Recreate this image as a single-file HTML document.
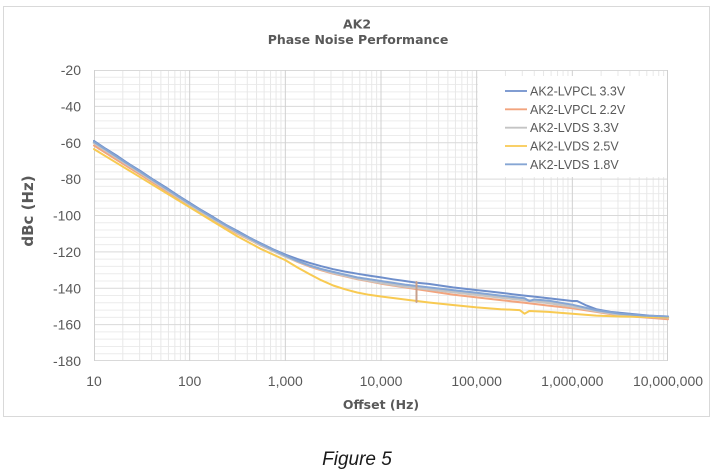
<!DOCTYPE html>
<html>
<head>
<meta charset="utf-8">
<style>
  html,body{margin:0;padding:0;background:#fff;}
  body{width:714px;height:475px;overflow:hidden;}
  svg{display:block;}
  .tick{font-family:"Liberation Sans",sans-serif;font-size:14px;fill:#595959;}
  .ttl{font-family:"DejaVu Sans","Liberation Sans",sans-serif;font-weight:bold;fill:#595959;}
  .leg{font-family:"Liberation Sans",sans-serif;font-size:12.5px;fill:#595959;}
  .fig{font-family:"Liberation Sans",sans-serif;font-size:19px;font-style:italic;fill:#1a1a1a;}
</style>
</head>
<body>
<svg width="714" height="475" viewBox="0 0 714 475" xmlns="http://www.w3.org/2000/svg">
  <rect x="0" y="0" width="714" height="475" fill="#fff"/>
  <rect x="3.5" y="6.5" width="706" height="410" fill="#fff" stroke="#d9d9d9" stroke-width="1"/>

  <!-- titles -->
  <text class="ttl" x="357" y="28.5" font-size="12.5" text-anchor="middle">AK2</text>
  <text class="ttl" x="358" y="44" font-size="12.5" text-anchor="middle">Phase Noise Performance</text>

  <!-- minor horizontal grid -->
  <path stroke="#ececec" stroke-width="1" fill="none" d="
    M94 77.28H668 M94 84.55H668 M94 91.83H668 M94 99.1H668
    M94 113.65H668 M94 120.93H668 M94 128.2H668 M94 135.48H668
    M94 150.03H668 M94 157.3H668 M94 164.58H668 M94 171.85H668
    M94 186.4H668 M94 193.68H668 M94 200.95H668 M94 208.23H668
    M94 222.78H668 M94 230.05H668 M94 237.33H668 M94 244.6H668
    M94 259.15H668 M94 266.43H668 M94 273.7H668 M94 280.98H668
    M94 295.53H668 M94 302.8H668 M94 310.08H668 M94 317.35H668
    M94 331.9H668 M94 339.18H668 M94 346.45H668 M94 353.73H668"/>

  <!-- minor vertical grid -->
  <path stroke="#e8e8e8" stroke-width="1" fill="none" d="
    M122.8 70V361 M139.64 70V361 M151.6 70V361 M160.87 70V361 M168.44 70V361 M174.85 70V361 M180.4 70V361 M185.29 70V361
    M218.47 70V361 M235.31 70V361 M247.27 70V361 M256.54 70V361 M264.11 70V361 M270.52 70V361 M276.07 70V361 M280.96 70V361
    M314.13 70V361 M330.97 70V361 M342.93 70V361 M352.2 70V361 M359.77 70V361 M366.18 70V361 M371.73 70V361 M376.62 70V361
    M409.8 70V361 M426.64 70V361 M438.6 70V361 M447.87 70V361 M455.44 70V361 M461.85 70V361 M467.4 70V361 M472.29 70V361
    M505.47 70V361 M522.31 70V361 M534.27 70V361 M543.54 70V361 M551.11 70V361 M557.52 70V361 M563.07 70V361 M567.96 70V361
    M601.13 70V361 M617.97 70V361 M629.93 70V361 M639.2 70V361 M646.77 70V361 M653.18 70V361 M658.73 70V361 M663.62 70V361"/>

  <!-- major horizontal grid -->
  <path stroke="#d9d9d9" stroke-width="1" fill="none" d="
    M94 70.5H668 M94 106.4H668 M94 142.75H668 M94 179.1H668 M94 215.5H668
    M94 251.9H668 M94 288.25H668 M94 324.6H668 M94 360.5H668"/>

  <!-- major vertical grid -->
  <path stroke="#d0d0d0" stroke-width="1" fill="none" d="
    M94.5 70V361 M189.67 70V361 M285.33 70V361 M381 70V361 M476.67 70V361 M572.33 70V361 M667.5 70V361"/>

  <!-- y tick labels -->
  <g class="tick" text-anchor="end">
    <text x="81" y="75">-20</text>
    <text x="81" y="111.4">-40</text>
    <text x="81" y="147.75">-60</text>
    <text x="81" y="184.1">-80</text>
    <text x="81" y="220.5">-100</text>
    <text x="81" y="256.9">-120</text>
    <text x="81" y="293.25">-140</text>
    <text x="81" y="329.6">-160</text>
    <text x="81" y="366">-180</text>
  </g>

  <!-- x tick labels -->
  <g class="tick" text-anchor="middle">
    <text x="94" y="386">10</text>
    <text x="189.67" y="386">100</text>
    <text x="285.33" y="386">1,000</text>
    <text x="381" y="386">10,000</text>
    <text x="476.67" y="386">100,000</text>
    <text x="572.33" y="386">1,000,000</text>
    <text x="668" y="386">10,000,000</text>
  </g>

  <!-- axis titles -->
  <text class="ttl" x="381" y="409" font-size="12.5" text-anchor="middle">Offset (Hz)</text>
  <text class="ttl" font-size="15" text-anchor="middle" transform="translate(33,211) rotate(-90)">dBc (Hz)</text>

  <!-- series -->
  <g fill="none" stroke-linejoin="round" stroke-linecap="round">
    <!-- AK2-LVPCL 3.3V -->
    <polyline stroke="#6f8fcb" stroke-width="2" points="94,140.9 105.9,148.9 117.9,156.4 129.8,164.5 141.8,171.9 153.7,179.9 165.75,187.3 177.7,195.3 189.7,202.8 201.6,210.3 213.6,217.3 225.5,224.6 237.5,231.0 249.4,237.6 261.4,243.7 273.3,249.4 285.3,254.6 297.3,259.0 309.3,262.8 321.2,266.2 333.2,269.2 345.1,271.6 357.1,273.7 369,275.6 381,277.4 392.9,279.3 404.9,281.0 416.8,282.7 428.8,283.9 440.8,285.6 452.8,287.4 464.7,288.8 476.7,290.1 488.6,291.4 500.6,292.8 512.5,294.2 524.5,295.6 536.4,296.9 548.4,298.3 560.3,299.6 572.3,301.0 577.1,301.0 586.7,305.6 596.3,309.2 610.6,311.9 629.7,313.7 648.9,315.6 668,316.5"/>
    <!-- AK2-LVPCL 2.2V -->
    <polyline stroke="#f2a47e" stroke-width="2" points="94,145.5 117.9,160.7 141.8,175.5 165.75,190.6 189.7,205.5 213.6,220.0 237.5,233.7 261.4,245.8 285.3,256.4 297.3,261.8 309.3,266.5 321.2,270.3 333.2,273.7 357.1,279.2 381,283.7 404.9,287.4 428.8,291.0 452.8,294.6 476.7,297.4 500.6,300.1 524.5,302.8 548.4,305.6 572.3,308.3 596.3,311.9 620.2,315.6 644.1,317.4 668,319.2"/>
    <!-- AK2-LVDS 3.3V -->
    <polyline stroke="#c4c4c4" stroke-width="2.6" points="94,142.8 117.9,158.4 141.8,173.7 165.75,189.2 189.7,204.6 213.6,219.1 237.5,232.8 261.4,245.2 285.3,256.4 297.3,261.2 309.3,265.5 321.2,269.4 333.2,272.8 357.1,278.3 381,282.8 404.9,286.5 428.8,289.2 452.8,291.9 476.7,294.7 500.6,297.4 524.5,300.1 548.4,302.8 572.3,306.5 596.3,311.0 620.2,314.7 644.1,316.5 668,317.4"/>
    <!-- AK2-LVDS 2.5V -->
    <polyline stroke="#f8ca52" stroke-width="2" points="94,149.1 117.9,163.7 141.8,178.2 165.75,192.8 189.7,207.3 213.6,221.9 237.5,236.4 261.4,249.2 285.3,260.1 297.3,267.4 309.3,274.0 321.2,280.2 333.2,285.5 345.1,289.3 357.1,292.5 369,294.8 381,296.5 404.9,299.5 428.8,302.5 452.8,305.0 476.7,307.4 500.6,309.2 519.7,310.1 524.5,313.7 529.3,311.0 548.4,311.9 572.3,313.7 596.3,315.6 620.2,316.5 668,317.4"/>
    <!-- AK2-LVDS 1.8V -->
    <polyline stroke="#86a6d4" stroke-width="2" points="94,141.8 117.9,157.4 141.8,172.8 165.75,188.3 189.7,203.7 213.6,218.2 237.5,231.9 261.4,244.3 285.3,255.5 297.3,260.8 309.3,265.5 321.2,269.0 333.2,271.9 357.1,277.4 381,281.0 404.9,284.6 428.8,287.4 452.8,290.1 476.7,292.8 500.6,295.6 524.5,298.3 529.3,301 534.1,299.5 548.4,300.6 572.3,304.7 596.3,310.1 620.2,313.7 644.1,315.6 668,316.5"/>
    <!-- spike near 25 kHz -->
    <path stroke="#c9a08a" stroke-width="2" d="M416.5 282V302"/>
  </g>

  <!-- legend -->
  <rect x="478" y="76" width="189" height="101" fill="#fff"/>
  <g stroke-width="1.8">
    <line x1="505" y1="91" x2="527" y2="91" stroke="#6f8fcb"/>
    <line x1="505" y1="109.3" x2="527" y2="109.3" stroke="#f2a47e"/>
    <line x1="505" y1="127.7" x2="527" y2="127.7" stroke="#c4c4c4"/>
    <line x1="505" y1="146" x2="527" y2="146" stroke="#f8ca52"/>
    <line x1="505" y1="164.3" x2="527" y2="164.3" stroke="#86a6d4"/>
  </g>
  <g class="leg">
    <text x="530" y="95.5">AK2-LVPCL 3.3V</text>
    <text x="530" y="113.8">AK2-LVPCL 2.2V</text>
    <text x="530" y="132.2">AK2-LVDS 3.3V</text>
    <text x="530" y="150.5">AK2-LVDS 2.5V</text>
    <text x="530" y="168.8">AK2-LVDS 1.8V</text>
  </g>

  <!-- caption -->
  <text class="fig" x="357" y="465" text-anchor="middle">Figure 5</text>
</svg>
</body>
</html>
